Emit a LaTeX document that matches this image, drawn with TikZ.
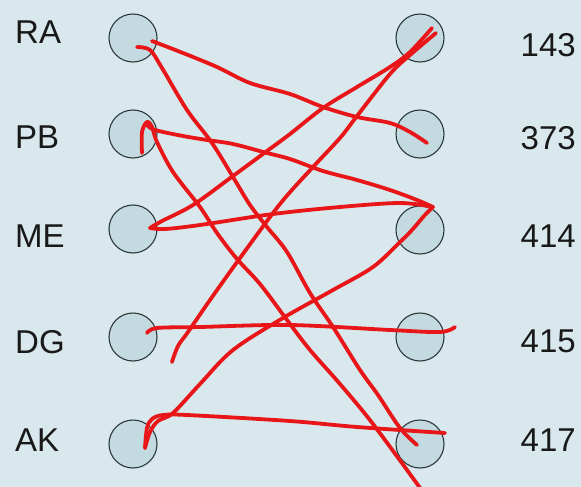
\documentclass[tikz,border=0pt]{standalone}
\usepackage{fontspec}
\setmainfont{Liberation Sans}
\definecolor{bgc}{RGB}{216,232,236}
\definecolor{circfill}{RGB}{196,218,225}
\definecolor{circline}{RGB}{45,55,55}
\definecolor{pen}{RGB}{232,22,24}
\begin{document}
\begin{tikzpicture}[x=1pt,y=-1pt,
  dot/.style={circle,draw=circline,line width=1.1pt,fill=circfill,minimum size=48pt,inner sep=0pt},
  lab/.style={font=\fontsize{33}{33}\selectfont,inner sep=0pt,text=black!90},
  penline/.style={draw=pen,line width=3.8pt,line cap=round,line join=round},
  every plot/.style={smooth,tension=0.55}]
\useasboundingbox (0,0) rectangle (581,487);
\fill[bgc] (0,0) rectangle (581,487);
% left nodes
\node[dot] (L1) at (133,38) {};
\node[dot] (L2) at (133,134) {};
\node[dot] (L3) at (133,229) {};
\node[dot] (L4) at (133,337) {};
\node[dot] (L5) at (133,444) {};
% right nodes
\node[dot] (R1) at (420,38) {};
\node[dot] (R2) at (420,134) {};
\node[dot] (R3) at (420,230) {};
\node[dot] (R4) at (420,337) {};
\node[dot] (R5) at (420,444) {};
% labels
\node[lab,anchor=base west] (tRA) at (15,44) {RA};
\node[lab,anchor=base west] (tPB) at (15,148) {PB};
\node[lab,anchor=base west] (tME) at (15,247) {ME};
\node[lab,anchor=base west] (tDG) at (15,353) {DG};
\node[lab,anchor=base west] (tAK) at (15,451) {AK};
\node[lab,anchor=base east] (t143) at (576,57) {143};
\node[lab,anchor=base east] (t373) at (576,149) {373};
\node[lab,anchor=base east] (t414) at (576,247) {414};
\node[lab,anchor=base east] (t415) at (576,352) {415};
\node[lab,anchor=base east] (t417) at (576,451) {417};
% pen ends
\coordinate (raA) at (152,41);
\coordinate (raB) at (137,47);
\coordinate (pbA) at (147,125);
\coordinate (pbB) at (142,153);
\coordinate (meA) at (150,228);
\coordinate (dgA) at (172,362);
\coordinate (dgB) at (147,333);
\coordinate (akA) at (145,448);
\coordinate (e143a) at (432,28);
\coordinate (e143b) at (436,33);
\coordinate (e373) at (427,143);
\coordinate (e414) at (433,207);
\coordinate (e415) at (455,327);
\coordinate (e417a) at (417,445);
\coordinate (e417b) at (445,433);
\coordinate (eBot) at (423,492);
% RA -> 373
\draw[penline] plot coordinates {(raA) (183,53) (217,67) (250,83) (290,94) (323,107) (357,117) (390,123) (410,132) (e373)};
% RA -> 417
\draw[penline] plot coordinates {(raB) (150,50) (162,68) (187,110) (212,143) (233,177) (250,205) (267,227) (287,252) (310,293) (333,327) (360,370) (378,395) (400,428) (e417a)};
% PB -> 414
\draw[penline] plot coordinates {(pbA) (155,130) (183,136) (207,140) (233,144) (267,153) (290,159) (323,171) (357,180) (390,190) (417,200) (e414)};
% PB -> bottom
\draw[penline] plot coordinates {(pbB) (142,132) (147,122) (152,127) (157,142) (173,172) (200,207) (217,233) (237,259) (260,284) (287,320) (310,350) (340,384) (373,424) (eBot)};
% ME -> 414
\draw[penline] plot coordinates {(meA) (165,229) (200,225) (273,214) (340,207) (400,203) (e414)};
% ME -> 143
\draw[penline] plot coordinates {(meA) (162,221) (193,205) (233,176) (267,151) (290,134) (323,108) (357,87) (390,67) (410,52) (e143a)};
% DG -> 143
\draw[penline] plot coordinates {(dgA) (178,346) (188,332) (210,300) (240,258) (280,204) (313,167) (340,138) (357,116) (390,74) (410,55) (e143b)};
% DG -> 415
\draw[penline] plot coordinates {(dgB) (157,328) (200,327) (290,325) (390,330) (440,332) (e415)};
% AK -> 417
\draw[penline] plot coordinates {(akA) (147,428) (152,419) (163,415) (187,415) (290,421) (357,427) (e417b)};
% AK -> 414
\draw[penline] plot coordinates {(akA) (150,432) (158,421) (173,413) (200,384) (233,350) (283,318) (333,290) (373,267) (400,242) (412,230) (424,216) (e414)};
\end{tikzpicture}
\end{document}
